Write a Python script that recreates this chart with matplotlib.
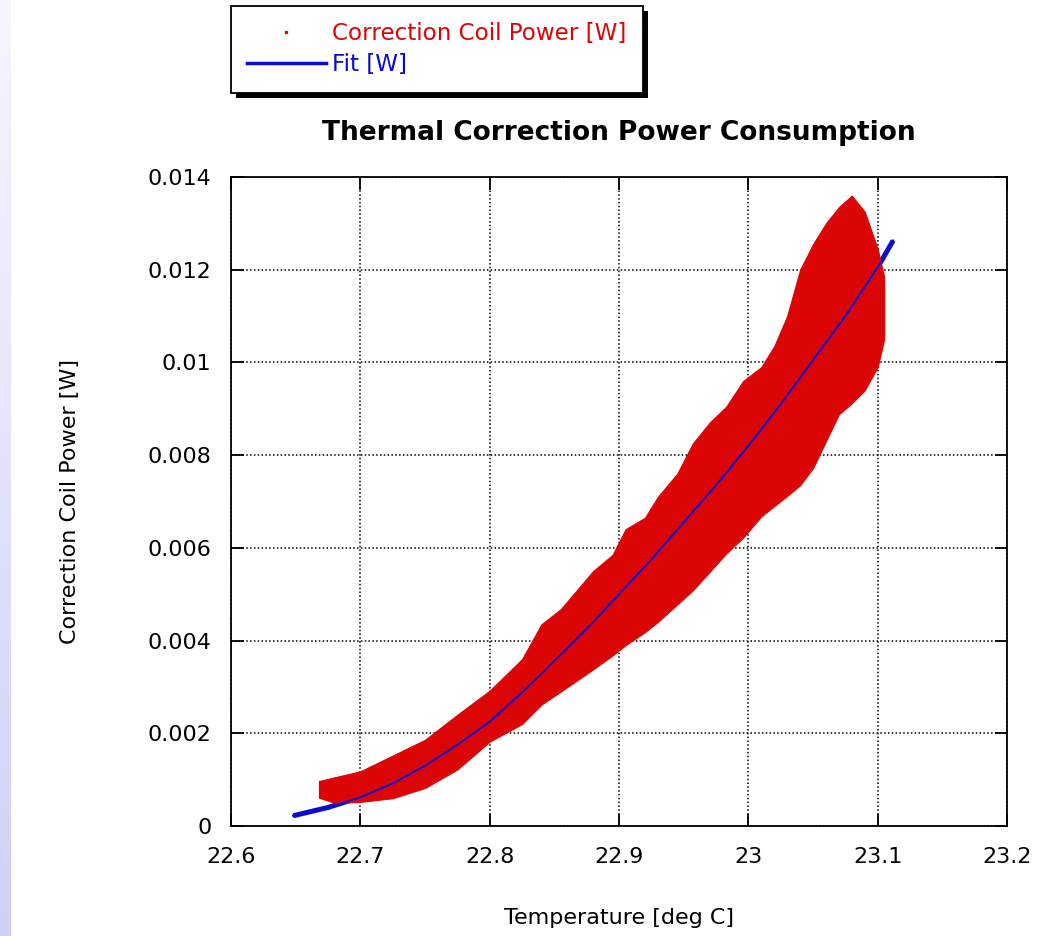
import numpy as np
import matplotlib
matplotlib.use("Agg")
import matplotlib.pyplot as plt
from matplotlib.lines import Line2D
from matplotlib.patches import Rectangle

# fit curve
fit_temp = [22.648, 22.675, 22.70, 22.725, 22.75, 22.775, 22.80, 22.825, 22.85, 22.875,
            22.90, 22.925, 22.95, 22.975, 23.00, 23.025, 23.05, 23.075, 23.10, 23.112]
fit_power = [0.00022, 0.00040, 0.00062, 0.00092, 0.00130, 0.00175, 0.00225, 0.00288, 0.00356, 0.00425,
             0.00500, 0.00575, 0.00655, 0.00735, 0.00820, 0.00910, 0.01005, 0.01100, 0.01205, 0.01263]

# envelope of the measured point cloud
cloud_temp = [22.668, 22.68, 22.70, 22.725, 22.75, 22.775, 22.80, 22.825, 22.84, 22.855,
              22.88, 22.895, 22.905, 22.92, 22.93, 22.945, 22.957, 22.97, 22.983, 22.996,
              23.01, 23.02, 23.03, 23.04, 23.05, 23.06, 23.07, 23.08, 23.09, 23.10, 23.105]
cloud_high = [0.00097, 0.00105, 0.00118, 0.00152, 0.00186, 0.00240, 0.00292, 0.00360, 0.00435, 0.00468,
              0.00550, 0.00585, 0.00640, 0.00665, 0.00710, 0.00760, 0.00825, 0.00870, 0.00905, 0.00960,
              0.00990, 0.01035, 0.01100, 0.01200, 0.01255, 0.01300, 0.01335, 0.01360, 0.01325, 0.01245, 0.01185]
cloud_low = [0.00061, 0.00050, 0.00052, 0.00060, 0.00082, 0.00122, 0.00182, 0.00220, 0.00262, 0.00290,
             0.00338, 0.00368, 0.00390, 0.00418, 0.00440, 0.00478, 0.00508, 0.00548, 0.00588, 0.00622,
             0.00668, 0.00690, 0.00712, 0.00735, 0.00772, 0.00830, 0.00888, 0.00912, 0.00940, 0.00990, 0.01050]

x_ticks = [22.6, 22.7, 22.8, 22.9, 23.0, 23.1, 23.2]
x_labels = ["22.6", "22.7", "22.8", "22.9", "23", "23.1", "23.2"]
y_ticks = [0, 0.002, 0.004, 0.006, 0.008, 0.010, 0.012, 0.014]
y_labels = ["0", "0.002", "0.004", "0.006", "0.008", "0.01", "0.012", "0.014"]

red = "#dc0505"
blue = "#0a0ad2"

plt.rcParams["font.family"] = ["DejaVu Sans"]

fig = plt.figure(figsize=(10.64, 9.36), dpi=100)

# soft gradient strip on the left edge
strip = fig.add_axes([0, 0, 11 / 1064, 1])
grad = np.linspace(0, 1, 256).reshape(-1, 1)
strip.imshow(grad, aspect="auto", cmap=matplotlib.colors.LinearSegmentedColormap.from_list(
    "g", ["#f6f6fe", "#cfd0f8"]), origin="upper")
strip.axis("off")

ax = fig.add_axes([231 / 1064, 110 / 936, 776 / 1064, 649 / 936])

ax.plot(fit_temp, fit_power, color=blue, lw=3.6, solid_capstyle="butt", zorder=2)
ax.fill_between(cloud_temp, cloud_low, cloud_high, color=red, lw=0.8, edgecolor=red, zorder=3)
ax.plot(fit_temp, fit_power, color=blue, lw=1.4, zorder=4)

ax.set_xlim(22.6, 23.2)
ax.set_ylim(0, 0.014)
ax.set_xticks(x_ticks)
ax.set_xticklabels(x_labels)
ax.set_yticks(y_ticks)
ax.set_yticklabels(y_labels)
ax.tick_params(direction="in", length=9, width=1.3, top=True, right=True, labelsize=16, colors="black")
ax.tick_params(axis="x", pad=15)
ax.tick_params(axis="y", pad=14)
ax.grid(True, color="black", linestyle=(0, (1, 1.5)), linewidth=1.1)
for s in ax.spines.values():
    s.set_linewidth(1.3)

ax.set_title("Thermal Correction Power Consumption", fontsize=19, fontweight="bold", pad=27)
ax.set_xlabel("Temperature [deg C]", fontsize=16, labelpad=30)
ax.set_ylabel("Correction Coil Power [W]", fontsize=16, labelpad=49)

handles = [Line2D([], [], ls="none", marker="s", ms=1.5, color=red),
           Line2D([], [], color=blue, lw=2.5)]
leg = fig.legend(handles, ["Correction Coil Power [W]", "Fit [W]"], loc="upper left",
                 bbox_to_anchor=(231 / 1064, 1 - 6 / 936), borderaxespad=0, fontsize=16.6,
                 fancybox=False, framealpha=1, edgecolor="black", handlelength=3.4,
                 handletextpad=0.3, labelspacing=0.36, borderpad=0.7)
leg.get_frame().set_linewidth(1.3)
leg.set_zorder(5)
for t, c in zip(leg.get_texts(), [red, blue]):
    t.set_color(c)

fig.canvas.draw()
bb = leg.get_window_extent()
fig.patches.append(Rectangle((bb.x0 + 5, bb.y0 - 5), bb.width, bb.height, transform=None,
                             facecolor="black", edgecolor="none", zorder=4, figure=fig))

fig.savefig("out.png", dpi=100)
